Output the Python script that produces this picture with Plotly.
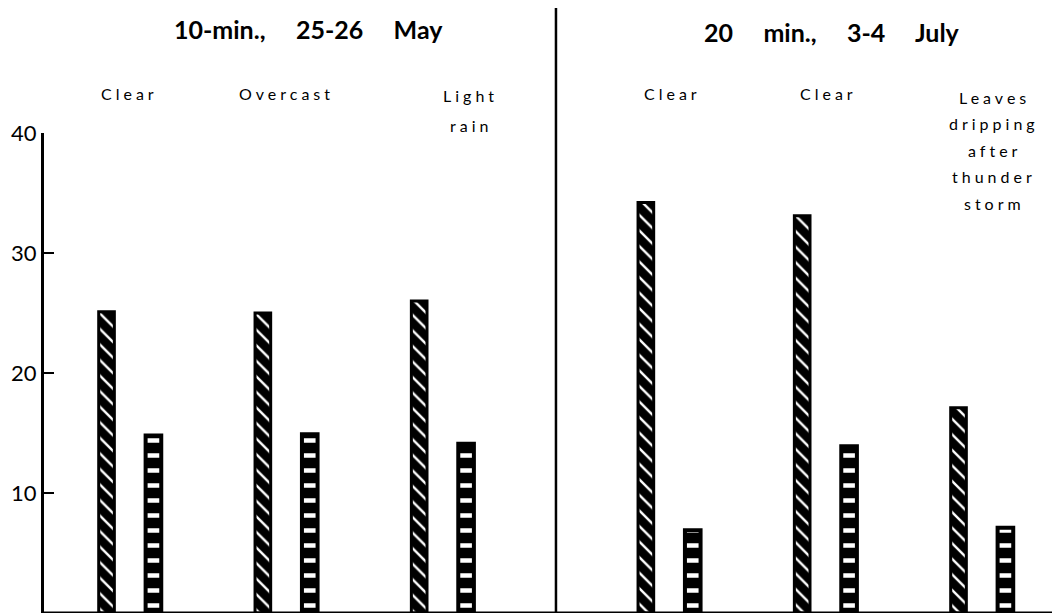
import plotly.graph_objects as go

# ---- data ----
conditions = ["Clear", "Overcast", "Light rain", "Clear", "Clear", "Leaves dripping after thunder storm"]
condition_lines = [["Clear"], ["Overcast"], ["Light", "rain"], ["Clear"], ["Clear"],
                   ["Leaves", "dripping", "after", "thunder", "storm"]]
diag_values = [25.1, 25.0, 26.0, 34.2, 33.1, 17.1]
horiz_values = [14.8, 14.9, 14.1, 6.9, 13.9, 7.1]
period_titles = ["10-min.,     25-26     May", "20     min.,     3-4     July"]
ytick_vals = [10, 20, 30, 40]
ytick_text = ["10", "20", "30", "40"]

# ---- layout helpers ----
GAP = 0.45
xpos = [i + (GAP if i >= 3 else 0) for i in range(len(conditions))]
BAR_W = 0.1
PLOT_H = 480.0   # plot-area height in px
BASE = 613.0     # screen y of the baseline


def py_to_paper(py):
    return (BASE - py) / PLOT_H


FONT = "Lato"

fig = go.Figure()
fig.add_trace(go.Bar(
    x=xpos, y=diag_values, width=BAR_W, offset=-0.2,
    marker=dict(color="black",
                line=dict(color="black", width=3),
                pattern=dict(shape="\\", bgcolor="black", fgcolor="white",
                             size=11, solidity=0.22, fillmode="replace")),
    showlegend=False, hoverinfo="skip",
))
fig.add_trace(go.Bar(
    x=xpos, y=horiz_values, width=BAR_W, offset=0.1,
    marker=dict(color="black",
                line=dict(color="black", width=4),
                pattern=dict(shape="-", bgcolor="black", fgcolor="white",
                             size=15, solidity=0.3, fillmode="replace")),
    showlegend=False, hoverinfo="skip",
))

ls = "letter-spacing:4px"
annotations = []
label_dx = [0.0, 0.0, 0.18, 0.02, 0.02, 0.08]
for i, lines in enumerate(condition_lines):
    step = 30 if len(lines) == 2 else 26.5
    y0 = 93 if len(lines) == 1 else (95 if len(lines) == 2 else 97)
    for j, line in enumerate(lines):
        py = y0 + j * step
        annotations.append(dict(
            x=xpos[i] + label_dx[i], y=py_to_paper(py), xref="x", yref="paper",
            text=f"<span style='{ls}'>{line}</span>", showarrow=False,
            font=dict(family=FONT, size=16, color="black"),
            xanchor="center", yanchor="middle",
        ))

annotations.append(dict(x=xpos[1] + 0.14, y=py_to_paper(29),
                        xref="x", yref="paper", text=f"<b>{period_titles[0]}</b>",
                        showarrow=False, font=dict(family=FONT, size=25, color="black"),
                        xanchor="center", yanchor="middle"))
annotations.append(dict(x=xpos[4] + 0.04, y=py_to_paper(32),
                        xref="x", yref="paper", text=f"<b>{period_titles[1]}</b>",
                        showarrow=False, font=dict(family=FONT, size=25, color="black"),
                        xanchor="center", yanchor="middle"))

divider_x = (xpos[2] + xpos[3]) / 2
shapes = [
    dict(type="line", xref="x", yref="paper", x0=divider_x, x1=divider_x,
         y0=0, y1=py_to_paper(5), line=dict(color="black", width=2.5)),
    dict(type="line", xref="paper", yref="y", x0=0, x1=1, y0=0, y1=0,
         line=dict(color="black", width=3)),
]

# page body has an 8px margin: compensate so the plot lands where the reference has it
fig.update_layout(
    width=1060, height=616,
    margin=dict(l=36, r=11, t=125, b=11),
    plot_bgcolor="white", paper_bgcolor="white",
    barmode="overlay",
    annotations=annotations, shapes=shapes,
    xaxis=dict(range=[-0.550, 5.93], showgrid=False, zeroline=False, automargin=False,
               showticklabels=False, ticks="", showline=False),
    yaxis=dict(range=[0, 40], showgrid=False, zeroline=False, automargin=False,
               tickvals=ytick_vals, ticktext=ytick_text,
               ticks="inside", ticklen=10, tickwidth=2, tickcolor="black",
               showline=True, linecolor="black", linewidth=3,
               tickfont=dict(family=FONT, size=22, color="black")),
)

fig.write_html("out.html")
